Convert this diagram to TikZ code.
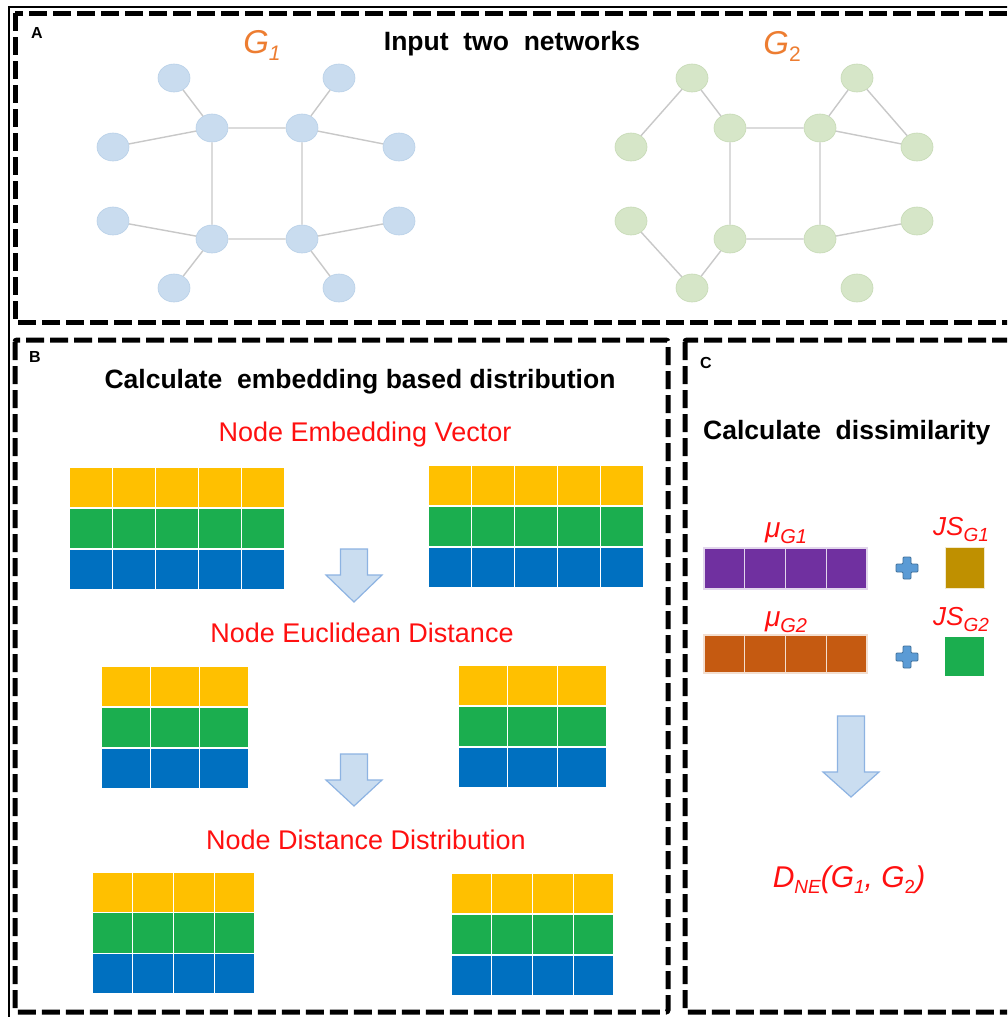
\documentclass[tikz,border=0pt]{standalone}
\usepackage{fontspec}
\setmainfont{Liberation Sans}
\usetikzlibrary{shapes.geometric}
\definecolor{cyel}{HTML}{FFC000}
\definecolor{cgrn}{HTML}{1BAE4F}
\definecolor{cblu}{HTML}{0070C0}
\definecolor{cpur}{HTML}{7030A0}
\definecolor{cora}{HTML}{C55A11}
\definecolor{cgold}{HTML}{BF9000}
\definecolor{cred}{HTML}{FF1010}
\definecolor{gorange}{HTML}{ED7D31}
\definecolor{nodeblue}{HTML}{C9DCEF}
\definecolor{nodeblueb}{HTML}{B8D0E8}
\definecolor{nodegreen}{HTML}{D6E6C8}
\definecolor{nodegreenb}{HTML}{C6DAB5}
\definecolor{edgegray}{HTML}{C8C8C8}
\definecolor{arrfill}{HTML}{CADDF0}
\definecolor{arrdraw}{HTML}{8DB3E2}
\definecolor{plusfill}{HTML}{5B9BD5}
\definecolor{plusdraw}{HTML}{41719C}
\newcommand{\lowsub}[3]{\raisebox{#1}{\fontsize{#2}{#2}\selectfont #3}}
\newcommand{\embgrid}[5]{%
  \pgfmathsetmacro{\gcw}{(#3-#1)/#5}%
  \pgfmathsetmacro{\grh}{(#4-#2)/3}%
  \foreach \gr/\gcol in {0/cyel,1/cgrn,2/cblu}{%
    \foreach \gk in {1,...,#5}{%
      \path[fill=\gcol, draw=white, line width=1.3pt] ({#1+(\gk-1)*\gcw},{#2+\gr*\grh}) rectangle ({#1+\gk*\gcw},{#2+(\gr+1)*\grh});
    }}}
\newcommand{\barcells}[6]{%
  \pgfmathsetmacro{\gcw}{(#3-#1)/#5}%
  \foreach \gk in {1,...,#5}{%
    \path[fill=#6, draw=white!80!#6, line width=1.2pt] ({#1+(\gk-1)*\gcw},{#2}) rectangle ({#1+\gk*\gcw},{#4});
  }}
\newcommand{\blockarrow}[4]{% cx, top, headstart, tip
  \path[fill=arrfill, draw=arrdraw, line width=1.2pt, line join=miter]
    ({#1-13.5},{#2}) -- ({#1+13.5},{#2}) -- ({#1+13.5},{#3}) -- ({#1+28},{#3})
    -- ({#1},{#4}) -- ({#1-28},{#3}) -- ({#1-13.5},{#3}) -- cycle;}
\newcommand{\plussign}[2]{%
  \path[fill=plusfill, draw=plusdraw, line width=0.8pt, rounded corners=1pt]
    ({#1-4},{#2-11}) -- ({#1+4},{#2-11}) -- ({#1+4},{#2-4}) -- ({#1+11},{#2-4})
    -- ({#1+11},{#2+4}) -- ({#1+4},{#2+4}) -- ({#1+4},{#2+11}) -- ({#1-4},{#2+11})
    -- ({#1-4},{#2+4}) -- ({#1-11},{#2+4}) -- ({#1-11},{#2-4}) -- ({#1-4},{#2-4}) -- cycle;}
\tikzset{
  gnodeA/.style={ellipse, minimum width=32pt, minimum height=28pt, inner sep=0pt, fill=nodeblue, draw=nodeblueb, line width=0.6pt},
  gnodeB/.style={ellipse, minimum width=32pt, minimum height=28pt, inner sep=0pt, fill=nodegreen, draw=nodegreenb, line width=0.6pt},
  gedge/.style={draw=edgegray, line width=1.4pt},
  frame/.style={line width=5pt, dash pattern=on 18pt off 6pt},
  headtxt/.style={inner sep=0pt, font=\fontsize{26.5}{26.5}\selectfont\bfseries},
  redlab/.style={inner sep=0pt, text=cred, font=\fontsize{27}{27}\selectfont},
  redmath/.style={inner sep=0pt, text=cred, font=\itshape},
  panlab/.style={inner sep=0pt, font=\fontsize{16}{16}\selectfont\bfseries},
  glab/.style={inner sep=0pt, text=gorange, font=\fontsize{33}{33}\selectfont\itshape},
}
\begin{document}
\begin{tikzpicture}[x=1pt, y=-1pt]
\useasboundingbox (0,0) rectangle (1007,1017);
\clip (0,0) rectangle (1007,1017);
\fill[white] (0,0) rectangle (1007,1017);
% outer thin line
\draw[line width=1.5pt] (9,1030) -- (9,7) -- (1030,7);
% frames
\draw[frame] (15,13) rectangle (1030,322);
\draw[frame, rounded corners=2pt] (15,340) rectangle (668,1012);
\draw[frame, rounded corners=2pt] (685,340) rectangle (1030,1012);
% panel labels
\node[panlab] (labA) at (37,33) {A};
\node[panlab] (labB) at (35,357) {B};
\node[panlab] (labC) at (706,363) {C};
% Panel A
\node[headtxt] (inputtxt) at (512,44) {Input\ \ two\ \ networks};
\node[glab] (g1lab) at (262,45) {G\lowsub{-7pt}{21}{1}};
\node[glab] (g2lab) at (782,46) {G\lowsub{-7pt}{21}{\upshape 2}};
% G1
\node[gnodeA] (a1) at (174,78) {};
\node[gnodeA] (a2) at (339,78) {};
\node[gnodeA] (a3) at (212,128) {};
\node[gnodeA] (a4) at (302,128) {};
\node[gnodeA] (a5) at (113,147) {};
\node[gnodeA] (a6) at (399,147) {};
\node[gnodeA] (a7) at (113,221) {};
\node[gnodeA] (a8) at (399,221) {};
\node[gnodeA] (a9) at (212,239) {};
\node[gnodeA] (a10) at (302,239) {};
\node[gnodeA] (a11) at (174,288) {};
\node[gnodeA] (a12) at (339,288) {};
\path[gedge] (a3) -- (a4) (a3) -- (a9) (a4) -- (a10) (a9) -- (a10)
  (a3) -- (a1) (a3) -- (a5) (a4) -- (a2) (a4) -- (a6)
  (a9) -- (a7) (a9) -- (a11) (a10) -- (a8) (a10) -- (a12);
% G2
\node[gnodeB] (b1) at (692,78) {};
\node[gnodeB] (b2) at (857,78) {};
\node[gnodeB] (b3) at (730,128) {};
\node[gnodeB] (b4) at (820,128) {};
\node[gnodeB] (b5) at (631,147) {};
\node[gnodeB] (b6) at (917,147) {};
\node[gnodeB] (b7) at (631,221) {};
\node[gnodeB] (b8) at (917,221) {};
\node[gnodeB] (b9) at (730,239) {};
\node[gnodeB] (b10) at (820,239) {};
\node[gnodeB] (b11) at (692,288) {};
\node[gnodeB] (b12) at (857,288) {};
\path[gedge] (b5) -- (b1) (b1) -- (b3) (b3) -- (b4) (b3) -- (b9) (b4) -- (b10)
  (b9) -- (b10) (b4) -- (b2) (b2) -- (b6) (b4) -- (b6)
  (b7) -- (b11) (b11) -- (b9) (b10) -- (b8);
% Panel B
\node[headtxt] (headB) at (360,382) {Calculate\ \ embedding based distribution};
\node[redlab] (nev) at (365,435) {Node Embedding Vector};
\embgrid{69}{467}{285}{590}{5}
\embgrid{428}{465}{644}{588}{5}
\blockarrow{354}{549}{575}{602}
\node[redlab] (ned) at (362,633) {Node Euclidean Distance};
\embgrid{101}{666}{249}{789}{3}
\embgrid{458}{665}{607}{788}{3}
\blockarrow{354}{754}{780}{806}
\node[redlab] (ndd) at (366,840) {Node Distance Distribution};
\embgrid{92}{872}{255}{994}{4}
\embgrid{451}{873}{614}{996}{4}
% Panel C
\node[headtxt, anchor=west] (headC) at (703,433) {Calculate\ \ dissimilarity};
\node[redmath] (mu1) at (786,533) {\fontsize{28}{28}\selectfont μ\lowsub{-6pt}{20}{G1}};
\node[redmath] (js1) at (961,530) {\fontsize{26}{26}\selectfont JS\lowsub{-6pt}{19}{G1}};
\node[redmath] (mu2) at (786,622) {\fontsize{28}{28}\selectfont μ\lowsub{-6pt}{20}{G2}};
\node[redmath] (js2) at (961,620) {\fontsize{26}{26}\selectfont JS\lowsub{-6pt}{19}{G2}};
\barcells{704}{548}{867}{589}{4}{cpur}
\barcells{704}{635}{867}{673}{4}{cora}
\path[fill=cgold, draw=white!80!cgold, line width=0.8pt] (945,547) rectangle (984,588);
\path[fill=cgrn] (945,637) rectangle (984,676);
\plussign{907}{568}
\plussign{907}{657}
\blockarrow{851}{716}{772}{797}
\node[redmath] (dne) at (849,880) {\fontsize{30}{30}\selectfont D\lowsub{-6pt}{19}{NE}(G\lowsub{-6pt}{19}{1}, G\lowsub{-6pt}{19}{\upshape 2})};
\end{tikzpicture}
\end{document}
